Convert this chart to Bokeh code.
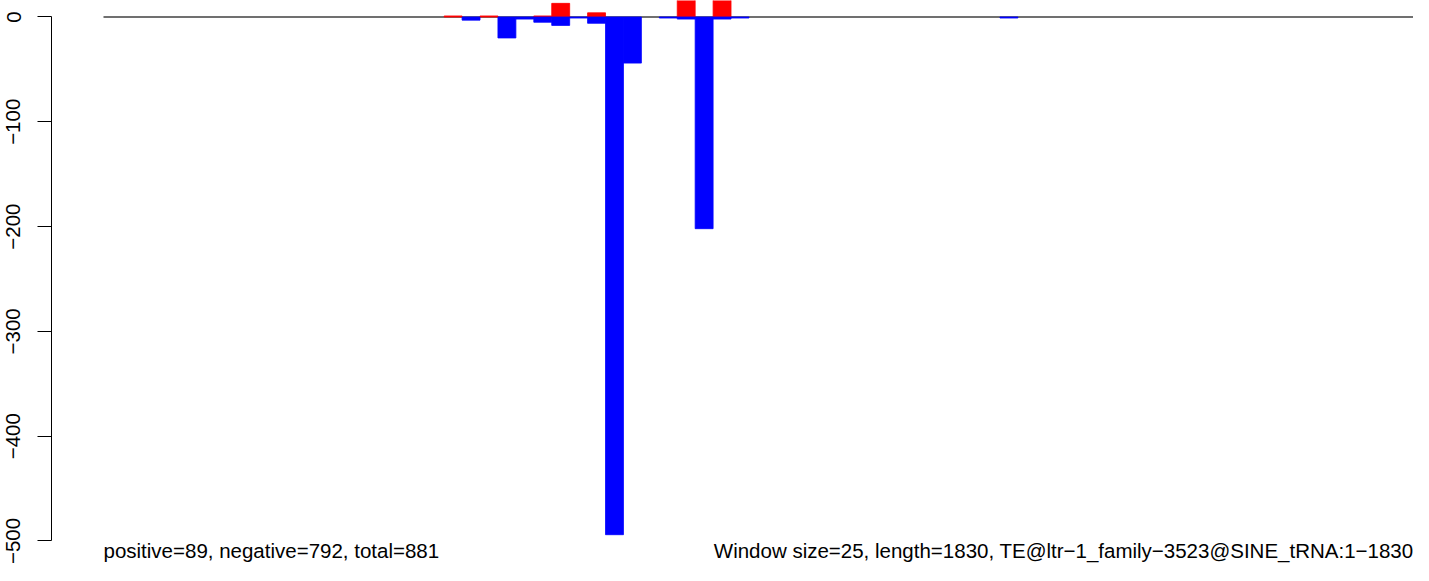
from bokeh.plotting import figure
from bokeh.models import FixedTicker, Range1d
from bokeh.core.properties import value
from bokeh.embed import file_html
from bokeh.resources import INLINE

# ---- data ----
window_size = 25
seq_length = 1830
n_windows = 74
windows = [19, 20, 21, 22, 23, 24, 25, 26, 27, 28, 29, 31, 32, 33, 34, 35, 50]
positive = [1, 0, 1, 0, 0, 1, 13, 0, 4, 0, 0, 0, 35, 0, 34, 0, 0]
negative = [0, -3, 0, -20, -2, -5, -8, -1, -6, -494, -44, -1, -2, -202, -2, -1, -1]
y_ticks = [0, -100, -200, -300, -400, -500]
y_tick_labels = {0: "0", -100: "\u2212100", -200: "\u2212200", -300: "\u2212300",
                 -400: "\u2212400", -500: "\u2212500"}
label_left = "positive=89, negative=792, total=881"
label_right = "Window size=25, length=1830, TE@ltr\u22121_family\u22123523@SINE_tRNA:1\u22121830"

FONT = "Liberation Sans"

x_start, x_end = -72.5, 1826.6
p = figure(width=1413, height=565, output_backend="svg", toolbar_location=None,
           x_range=Range1d(x_start, x_end),
           y_range=Range1d(-523.4, 15.74),
           min_border_left=51, min_border_right=0, min_border_top=0, min_border_bottom=0)
p.outline_line_color = None
p.grid.visible = False
p.xaxis.visible = False
p.background_fill_color = "white"
p.border_fill_color = "white"

# zero line
p.segment(x0=[0], y0=[0], x1=[x_end + 100], y1=[0],
          line_color="#404040", line_width=1.3)

pos_w = [w for w, v in zip(windows, positive) if v > 0]
pos_v = [v for v in positive if v > 0]
neg_w = [w for w, v in zip(windows, negative) if v < 0]
neg_v = [v for v in negative if v < 0]

p.quad(left=[w * window_size for w in pos_w], right=[(w + 1) * window_size for w in pos_w],
       bottom=[0] * len(pos_w), top=pos_v,
       fill_color="#ff0000", line_color="#ff0000", line_width=0.8)
p.quad(left=[w * window_size for w in neg_w], right=[(w + 1) * window_size for w in neg_w],
       bottom=neg_v, top=[0] * len(neg_w),
       fill_color="#0000ff", line_color="#0000ff", line_width=0.8)

p.text(x=[0], y=[-520.0], text=[label_left], text_font=value(FONT),
       text_font_size="20.5px", text_align="left", text_baseline="bottom",
       text_color="black")
p.text(x=[x_end], y=[-520.0], text=[label_right], text_font=value(FONT),
       text_font_size="20.5px", text_align="right", text_baseline="bottom",
       text_color="black")

ax = p.yaxis[0]
ax.ticker = FixedTicker(ticks=y_ticks)
ax.major_label_overrides = y_tick_labels
ax.bounds = (-500, 0)
ax.major_tick_out = 14
ax.major_tick_in = 0
ax.minor_tick_line_color = None
ax.axis_line_color = "black"
ax.major_tick_line_color = "black"
ax.major_label_orientation = "vertical"
ax.major_label_text_font = FONT
ax.major_label_text_font_size = "20.5px"
ax.major_label_text_color = "black"
ax.major_label_standoff = 17

open("out.html", "w").write(file_html(p, INLINE))
